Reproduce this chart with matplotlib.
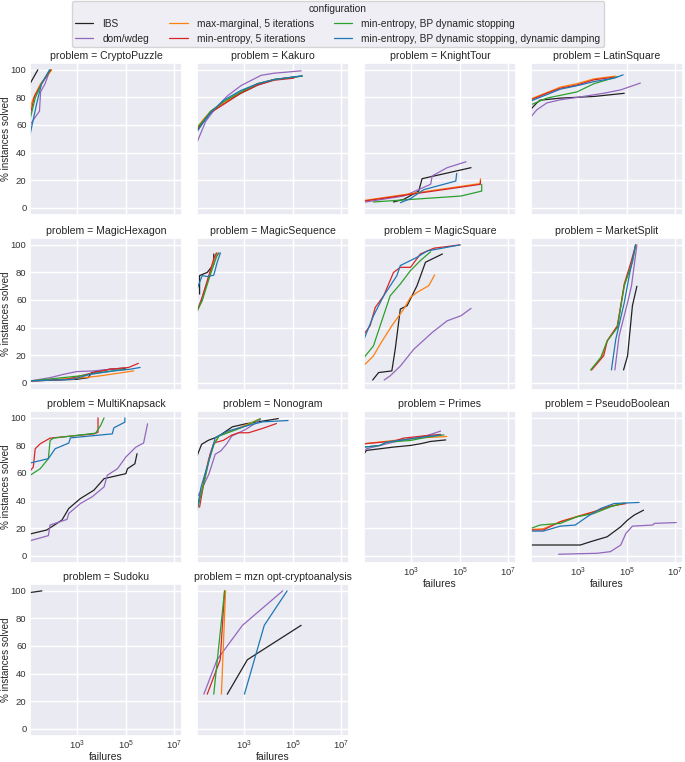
import numpy as np
import matplotlib
matplotlib.use("Agg")
import matplotlib.pyplot as plt
import seaborn as sns

sns.set_theme(style="darkgrid")
plt.rcParams['font.family'] = ['Liberation Sans', 'DejaVu Sans']

configs = ["IBS", "dom/wdeg", "max-marginal, 5 iterations", "min-entropy, 5 iterations",
           "min-entropy, BP dynamic stopping", "min-entropy, BP dynamic stopping, dynamic damping"]
colors = ["#222222", "#9467bd", "#ff7f0e", "#d62728", "#2ca02c", "#1f77b4"]

problems = ["CryptoPuzzle", "Kakuro", "KnightTour", "LatinSquare", "MagicHexagon", "MagicSequence",
            "MagicSquare", "MarketSplit", "MultiKnapsack", "Nonogram", "Primes", "PseudoBoolean",
            "Sudoku", "mzn opt-cryptoanalysis"]

# (failures, % instances solved) per configuration
crypto_puzzle = {
    "IBS": ([11, 23], [90, 100]),
    "dom/wdeg": ([11, 17, 27, 30, 46, 74], [60, 65, 70, 84, 90, 100]),
    "max-marginal, 5 iterations": ([11, 15, 30, 87], [72, 79.5, 90, 100]),
    "min-entropy, 5 iterations": ([11, 17, 33, 80], [67, 81, 90, 100]),
    "min-entropy, BP dynamic stopping": ([11, 18, 33, 74], [64, 79.5, 90, 100]),
    "min-entropy, BP dynamic stopping, dynamic damping": ([11, 21, 33, 70], [53, 76, 90, 100]),
}
kakuro = {
    "IBS": ([11, 20, 40, 140, 700, 3500, 1.7e4, 2.4e5], [56, 62, 69, 76, 83, 89, 93, 95.5]),
    "dom/wdeg": ([11, 25, 63, 195, 710, 4800, 1.7e4, 2.2e5], [47.5, 62.6, 72, 81, 88.5, 96, 97.6, 99.3]),
    "max-marginal, 5 iterations": ([11, 20, 40, 140, 700, 3500, 1.7e4, 1.1e5], [58, 64, 70, 76, 84, 90, 93, 94.5]),
    "min-entropy, 5 iterations": ([11, 20, 40, 140, 700, 3500, 1.7e4, 1.1e5], [57, 63, 69, 75, 83, 89, 92.5, 94]),
    "min-entropy, BP dynamic stopping": ([11, 20, 40, 140, 700, 3500, 1.7e4, 2.4e5], [58, 63, 70, 77, 84, 90, 93, 95.5]),
    "min-entropy, BP dynamic stopping, dynamic damping": ([11, 20, 40, 140, 700, 3500, 1.7e4, 2.4e5], [55, 62, 69, 78, 85, 90, 93, 95.7]),
}
knight_tour = {
    "IBS": ([180, 480, 2000, 2750, 6200, 2.9e5], [4.1, 6, 12, 21, 22.4, 29]),
    "dom/wdeg": ([12, 480, 6200, 7200, 3e4, 1.8e5], [4, 8.4, 16.9, 23, 29, 33.3]),
    "max-marginal, 5 iterations": ([11, 7e5, 7.1e5], [5.2, 17.5, 21]),
    "min-entropy, 5 iterations": ([11, 7e5, 7.1e5], [4.8, 16.9, 19.5]),
    "min-entropy, BP dynamic stopping": ([27, 1.1e5, 8e5, 8e5], [4.1, 8.4, 12, 16.9]),
    "min-entropy, BP dynamic stopping, dynamic damping": ([350, 900, 3200, 6.8e4, 7.4e4], [3.6, 6.5, 13, 19.3, 24.8]),
}
latin_square = {
    "IBS": ([11, 19, 26, 178, 4400, 7.8e4], [71.6, 76, 78, 79.5, 80.7, 83]),
    "dom/wdeg": ([11, 19, 49, 178, 870, 1.1e4, 5.6e4, 3.6e5], [66, 71, 76, 78.3, 80, 83, 85.5, 90.4]),
    "max-marginal, 5 iterations": ([11, 49, 178, 870, 4400, 3.5e4], [79, 83.5, 87.5, 90, 93.5, 95.5]),
    "min-entropy, 5 iterations": ([11, 49, 178, 870, 4400, 3e4], [78.3, 83, 86.7, 89, 92.8, 94.7]),
    "min-entropy, BP dynamic stopping": ([11, 49, 870, 4400, 4.1e4], [74.7, 79.5, 84, 90, 95]),
    "min-entropy, BP dynamic stopping, dynamic damping": ([11, 49, 178, 870, 4400, 3e4, 7e4], [77.5, 82, 86, 88.5, 91.5, 94, 96.4]),
}
magic_hexagon = {
    "IBS": ([11, 930, 2800, 3900, 2.2e4, 9.3e4], [1.2, 2.4, 3.6, 7.3, 9.7, 10.4]),
    "dom/wdeg": ([11, 74, 263, 930, 4600, 2.2e4, 7.9e4], [1.2, 3.6, 6, 8, 8.5, 9.7, 10.5]),
    "max-marginal, 5 iterations": ([11, 1800, 8700, 2.1e5], [1.2, 3.6, 4.9, 8.5]),
    "min-entropy, 5 iterations": ([11, 363, 4600, 2.2e4, 1.3e5, 3.3e5], [1.2, 2.4, 7.3, 9.7, 11, 14]),
    "min-entropy, BP dynamic stopping": ([11, 1300, 8700, 5.8e4, 1.1e5], [1.2, 4.9, 7.3, 9.2, 9.7]),
    "min-entropy, BP dynamic stopping, dynamic damping": ([11, 680, 3300, 3.1e4, 1.5e5, 3.9e5], [1.2, 2.4, 6, 8.5, 9.7, 11]),
}
magic_sequence = {
    "IBS": ([14, 14, 29, 54, 54], [64.3, 77.7, 80, 86, 93.4]),
    "dom/wdeg": ([12, 18, 38, 65, 90], [54, 62, 80, 91, 94]),
    "max-marginal, 5 iterations": ([11, 17, 36, 60, 80], [52, 59, 78, 91, 94]),
    "min-entropy, 5 iterations": ([11, 16, 34, 54, 70], [51.5, 59, 77.7, 90, 94.2]),
    "min-entropy, BP dynamic stopping": ([11, 18, 40, 75, 87], [52, 59.5, 79, 92.7, 94.2]),
    "min-entropy, BP dynamic stopping, dynamic damping": ([11, 18, 29, 54, 75, 102], [68, 77.7, 77, 78, 87.4, 94.2]),
}
magic_square = {
    "IBS": ([25, 44, 155, 214, 347, 661, 1700, 3800, 1.9e4], [1.9, 7.3, 8.5, 24.3, 53.4, 55.8, 70.4, 87.4, 93.4]),
    "dom/wdeg": ([75, 132, 347, 1260, 7200, 3e4, 1.1e5, 2.9e5], [1.9, 4.9, 12, 24.3, 36.4, 44.9, 48.5, 53.9]),
    "max-marginal, 5 iterations": ([11, 27, 51, 155, 479, 912, 1700, 5200, 9100], [12.6, 19.4, 27.9, 41.3, 53.4, 61.9, 65.5, 70.4, 78.2]),
    "min-entropy, 5 iterations": ([11, 19.5, 32, 71, 182, 347, 912, 2340, 8500, 1.02e5], [35.2, 41.3, 54.6, 63, 80, 83.7, 83.7, 93.4, 97.6, 100]),
    "min-entropy, BP dynamic stopping": ([11, 27, 51, 132, 347, 912, 2340, 6200], [18.2, 26.7, 41.3, 63, 71.6, 81.3, 88.6, 95]),
    "min-entropy, BP dynamic stopping, dynamic damping": ([11, 27, 71, 251, 347, 1700, 4500, 1.02e5], [31.6, 48.5, 63, 77.7, 85, 91, 95.6, 100]),
}
market_split = {
    "IBS": ([7.3e4, 1.07e5, 1.7e5, 2.6e5], [9.2, 19.4, 55.8, 70]),
    "dom/wdeg": ([3.2e4, 4.8e4, 1.07e5, 1.56e5, 2.6e5], [9.2, 34, 58, 70.4, 100]),
    "max-marginal, 5 iterations": ([3300, 9500, 1.5e4, 4e4, 8e4, 1.6e5, 2.4e5], [9.2, 19, 30, 41, 71, 87, 100]),
    "min-entropy, 5 iterations": ([3500, 1.1e4, 1.55e4, 4.1e4, 7.8e4, 1.48e5, 2.3e5], [9.2, 19.4, 30.3, 41.3, 71.6, 87.4, 100]),
    "min-entropy, BP dynamic stopping": ([3200, 8300, 1.55e4, 4.1e4, 7.8e4, 1.7e5, 2.3e5], [9.2, 18.2, 30.3, 40, 70.4, 87.4, 100]),
    "min-entropy, BP dynamic stopping, dynamic damping": ([2.3e4, 3.5e4, 7.8e4, 1.26e5, 2.3e5], [9.2, 31.6, 58, 77.7, 100]),
}
multi_knapsack = {
    "IBS": ([11, 54, 229, 437, 1320, 4790, 1.26e4, 1e5, 1.17e5, 2.36e5, 2.9e5],
            [15.7, 18.6, 25.8, 34.2, 41.4, 47.5, 55.9, 59.5, 63.1, 66.7, 74]),
    "dom/wdeg": ([11, 63, 74, 372, 437, 1320, 4070, 1.26e4, 1.7e4, 4.5e4, 1e5, 2.6e5, 5.4e5, 7.9e5],
                 [10.8, 14.5, 22.2, 26.3, 30.6, 37.8, 42.7, 49.9, 58.3, 63.1, 71.6, 78.8, 81.7, 95.7]),
    "min-entropy, 5 iterations": ([11, 15, 18, 29, 74, 4790, 7080, 7080], [61.4, 64.3, 77.6, 81.2, 85.3, 88.4, 89.6, 100]),
    "min-entropy, BP dynamic stopping": ([11, 29, 63, 74, 102, 5620, 9100, 1.26e4], [58.3, 63.1, 70.4, 83.6, 85.3, 88.9, 94.5, 100]),
    "min-entropy, BP dynamic stopping, dynamic damping": ([11, 63, 120, 437, 513, 2.75e4, 3.2e4, 9.1e4, 9.1e4],
                                                          [67.2, 70.4, 77.6, 81.7, 85.5, 88.4, 92.8, 96.9, 100]),
}
nonogram = {
    "IBS": ([11, 17, 32, 62, 100, 316, 1120, 5500, 2.5e4], [72.4, 80.8, 83.7, 85.6, 87.5, 93.5, 95.7, 97.6, 99.5]),
    "dom/wdeg": ([12, 16, 34, 62, 105, 180, 300, 1120, 2600, 4570], [43.6, 47.2, 59.2, 73.6, 76, 80.8, 86.8, 91.6, 95.7, 98.8]),
    "max-marginal, 5 iterations": ([11, 20, 33, 55, 90, 330, 1200, 4000], [34, 53, 70, 81, 87, 91, 95, 99]),
    "min-entropy, 5 iterations": ([14, 23, 38, 52, 60, 135, 300, 575, 1480, 5500, 2.1e4],
                                  [35.2, 56.8, 73.6, 80.8, 82, 83.7, 87.5, 89.2, 89.2, 92.3, 95.9]),
    "min-entropy, BP dynamic stopping": ([11, 21, 34, 55, 89, 316, 1120, 4570], [32.9, 52, 68.8, 80.8, 86.8, 90.4, 94, 99.5]),
    "min-entropy, BP dynamic stopping, dynamic damping": ([11, 16, 34, 62, 200, 1120, 5500, 6.3e4], [32.9, 49.6, 68.8, 85.6, 90.4, 94, 97.1, 98.1]),
}
primes = {
    "IBS": ([11, 14, 51, 182, 912, 2340, 6200, 2.6e4], [74, 76.4, 77.6, 78.8, 80, 81.2, 82.9, 84]),
    "dom/wdeg": ([11, 14, 182, 912, 4500, 1.6e4], [75.2, 77.6, 82.4, 84.8, 87.2, 90.4]),
    "max-marginal, 5 iterations": ([11, 182, 2340, 2.9e4], [81.2, 83.6, 85.5, 86.5]),
    "min-entropy, 5 iterations": ([11, 182, 479, 4500, 1.6e4], [81.2, 83.1, 85.3, 87.2, 88]),
    "min-entropy, BP dynamic stopping": ([11, 51, 95, 912, 4500, 2.2e4], [78.8, 80, 82.4, 83.6, 86, 87.7]),
    "min-entropy, BP dynamic stopping, dynamic damping": ([11, 51, 95, 912, 4500, 1.6e4], [78.8, 80, 82.4, 84.8, 86.5, 87.5]),
}
pseudo_boolean = {
    "IBS": ([11, 1200, 3160, 1.55e4, 5.6e4, 1.07e5, 2e5, 4.9e5], [7.7, 7.7, 10.1, 13.7, 21, 25.8, 29.4, 33]),
    "dom/wdeg": ([151, 6030, 2.1e4, 5.6e4, 9.1e4, 1.7e5, 1.17e6, 1.38e6, 1.1e7], [1, 1.7, 2.9, 7.7, 16.1, 21.4, 22.2, 23.4, 24]),
    "max-marginal, 5 iterations": ([11, 35, 200, 900, 4500, 2.2e4, 8.5e4], [19, 19.5, 25, 28.5, 32, 36, 38]),
    "min-entropy, 5 iterations": ([11, 35, 178, 870, 4370, 2.1e4, 9.1e4], [18.6, 18.6, 24.6, 28.2, 31.8, 35.9, 37.8]),
    "min-entropy, BP dynamic stopping": ([11, 26, 178, 870, 4370, 2.1e4, 7.8e4], [19.8, 22.2, 23.4, 28.2, 30.6, 35.4, 38.3]),
    "min-entropy, BP dynamic stopping, dynamic damping": ([11, 35, 178, 740, 2290, 8300, 2.95e4, 3.2e5],
                                                          [17.8, 17.8, 21.4, 22.2, 28.2, 34.2, 37.8, 38.6]),
}
sudoku = {
    "IBS": ([11, 34], [98.8, 100]),
}
mzn_crypto = {
    "IBS": ([195, 1320, 2.2e5], [25, 50, 75]),
    "dom/wdeg": ([21, 74, 830, 3.8e4], [25, 50, 75, 100]),
    "max-marginal, 5 iterations": ([112, 166], [25, 100]),
    "min-entropy, 5 iterations": ([29, 100, 151], [25, 50, 100]),
    "min-entropy, BP dynamic stopping": ([54, 151], [25, 100]),
    "min-entropy, BP dynamic stopping, dynamic damping": ([1000, 6600, 5.8e4], [25, 75, 100]),
}
panels = [crypto_puzzle, kakuro, knight_tour, latin_square, magic_hexagon, magic_sequence,
          magic_square, market_split, multi_knapsack, nonogram, primes, pseudo_boolean,
          sudoku, mzn_crypto]

W, H = 685, 762
fig = plt.figure(figsize=(W / 100, H / 100), dpi=100)
col_left = [30, 197, 364, 531]
row_top = [63, 238, 411, 584]
aw, ah = 152, 151.5

for i, (name, data) in enumerate(zip(problems, panels)):
    r, c = divmod(i, 4)
    ax = fig.add_axes([col_left[c] / W, 1 - (row_top[r] + ah) / H, aw / W, ah / H])
    for cfg, col in zip(configs, colors):
        if cfg in data:
            x, y = data[cfg]
            ax.plot(x, y, color=col, lw=0.9)
    ax.set_xscale("log")
    ax.set_xlim(10 ** 1.04, 10 ** 7.32)
    ax.set_ylim(-5, 105)
    ax.set_xticks([1e3, 1e5, 1e7])
    ax.xaxis.set_minor_locator(matplotlib.ticker.NullLocator())
    ax.set_yticks([0, 20, 40, 60, 80, 100])
    ax.set_title(f"problem = {name}", fontsize=7.6, pad=3)
    ax.tick_params(labelsize=6.8, pad=2.5, length=0, colors="#333333")
    ax.tick_params(axis="x", pad=2.5)
    if c == 0:
        ax.set_ylabel("% instances solved", fontsize=7.1)
        ax.yaxis.set_label_coords(-0.125, 0.5)
    else:
        ax.tick_params(labelleft=False)
    if i >= 10:
        ax.set_xlabel("failures", fontsize=7.5, labelpad=0)
    else:
        ax.tick_params(labelbottom=False)

handles = [plt.Line2D([], [], color=col, lw=0.9) for col in colors]
leg = fig.legend(handles, configs, loc="upper center", bbox_to_anchor=(0.493, 1.0), ncol=3,
                 title="configuration", fontsize=7.3, title_fontsize=7.3, frameon=True,
                 columnspacing=2.0, handlelength=1.8, handletextpad=0.9, borderpad=0.3,
                 labelspacing=0.5, borderaxespad=0.05)

fig.savefig("out.png", dpi=100)
